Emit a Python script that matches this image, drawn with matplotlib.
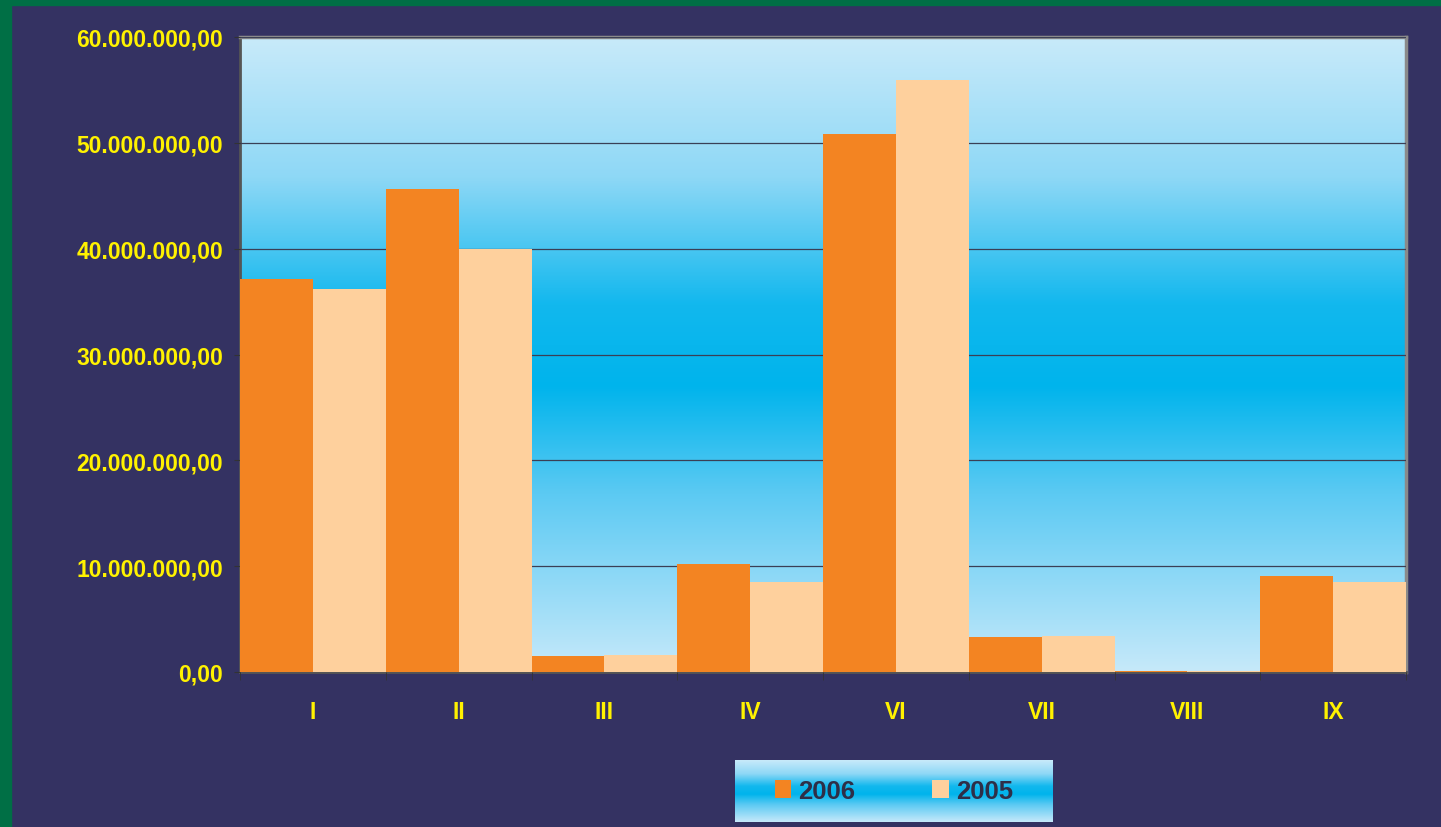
import numpy as np
import matplotlib
matplotlib.use("Agg")
import matplotlib.pyplot as plt
from matplotlib.colors import LinearSegmentedColormap
from matplotlib.patches import Rectangle
from matplotlib.ticker import FuncFormatter, MultipleLocator

# ── data ──
categories = ["I", "II", "III", "IV", "VI", "VII", "VIII", "IX"]
values_2006 = [37150000, 45600000, 1500000, 10200000, 50850000, 3300000, 50000, 9050000]
values_2005 = [36200000, 40000000, 1600000, 8500000, 55950000, 3400000, 50000, 8500000]
series_labels = ["2006", "2005"]

NAVY = "#343262"
GREEN = "#006F45"
YELLOW = "#FFF200"
ORANGE = "#F38422"
PEACH = "#FED09D"

plt.rcParams["font.family"] = ["Liberation Sans", "DejaVu Sans"]

grad = LinearSegmentedColormap.from_list(
    "sky", [(0.0, "#C8EAFA"), (0.22, "#8ED8F6"), (0.42, "#12B8EE"),
            (0.55, "#00B4EC"), (0.72, "#5CCAF3"), (1.0, "#C6E9FA")])
grad_img = np.linspace(0, 1, 256).reshape(-1, 1)

fig = plt.figure(figsize=(14.41, 8.28), dpi=100, facecolor=NAVY)
# green frame on top and left
fig.patches.append(Rectangle((0, 1 - 6 / 828), 1, 6 / 828, transform=fig.transFigure,
                             color=GREEN, zorder=0))
fig.patches.append(Rectangle((0, 0), 11 / 1441, 1, transform=fig.transFigure,
                             color=GREEN, zorder=0))

ax = fig.add_axes([240 / 1441, 155 / 828, 1166 / 1441, 635 / 828])
ax.imshow(grad_img, cmap=grad, aspect="auto", extent=[0, 1, 0, 1],
          transform=ax.transAxes, zorder=0, origin="upper")

x = np.arange(len(categories))
w = 0.5
b1 = ax.bar(x - w / 2, values_2006, width=w, color=ORANGE, zorder=3, label=series_labels[0])
b2 = ax.bar(x + w / 2, values_2005, width=w, color=PEACH, zorder=3, label=series_labels[1])

ax.set_xlim(-0.5, len(categories) - 0.5)
ax.set_ylim(0, 60000000)
ax.yaxis.set_major_locator(MultipleLocator(10000000))
ax.yaxis.set_major_formatter(FuncFormatter(
    lambda v, p: f"{v:,.2f}".replace(",", "X").replace(".", ",").replace("X", ".")))
ax.grid(axis="y", color="#3A3F55", linewidth=0.9, zorder=1)
ax.set_axisbelow(False)

ax.set_xticks(x)
ax.set_xticklabels(categories)
ax.set_xticks(np.arange(len(categories) + 1) - 0.5, minor=True)
ax.tick_params(axis="x", which="major", length=0, pad=20)
ax.tick_params(axis="x", which="minor", length=6, color="#333333", direction="out")
ax.tick_params(axis="y", length=4, color="#333333", pad=8)
for lbl in ax.get_xticklabels() + ax.get_yticklabels():
    lbl.set_color(YELLOW)
    lbl.set_fontweight("bold")
    lbl.set_fontsize(16.5)

for side in ("top", "right"):
    ax.spines[side].set_color("#8A8A8A")
    ax.spines[side].set_linewidth(2.5)
for side in ("left", "bottom"):
    ax.spines[side].set_color("#555555")
    ax.spines[side].set_linewidth(2)

# legend box with its own gradient
lax = fig.add_axes([735 / 1441, 5 / 828, 318 / 1441, 62 / 828])
lax.imshow(grad_img, cmap=grad, aspect="auto", extent=[0, 1, 0, 1], origin="upper")
lax.set_xlim(0, 1)
lax.set_ylim(0, 1)
lax.axis("off")
leg = lax.legend([b1, b2], series_labels, loc="center", ncol=2, frameon=False,
                 handlelength=0.66, handleheight=0.66, handletextpad=0.27,
                 columnspacing=3.0, prop={"weight": "bold", "size": 18.5})
for t in leg.get_texts():
    t.set_color("#2E2F48")

fig.savefig("out.png", dpi=100, facecolor=NAVY)
